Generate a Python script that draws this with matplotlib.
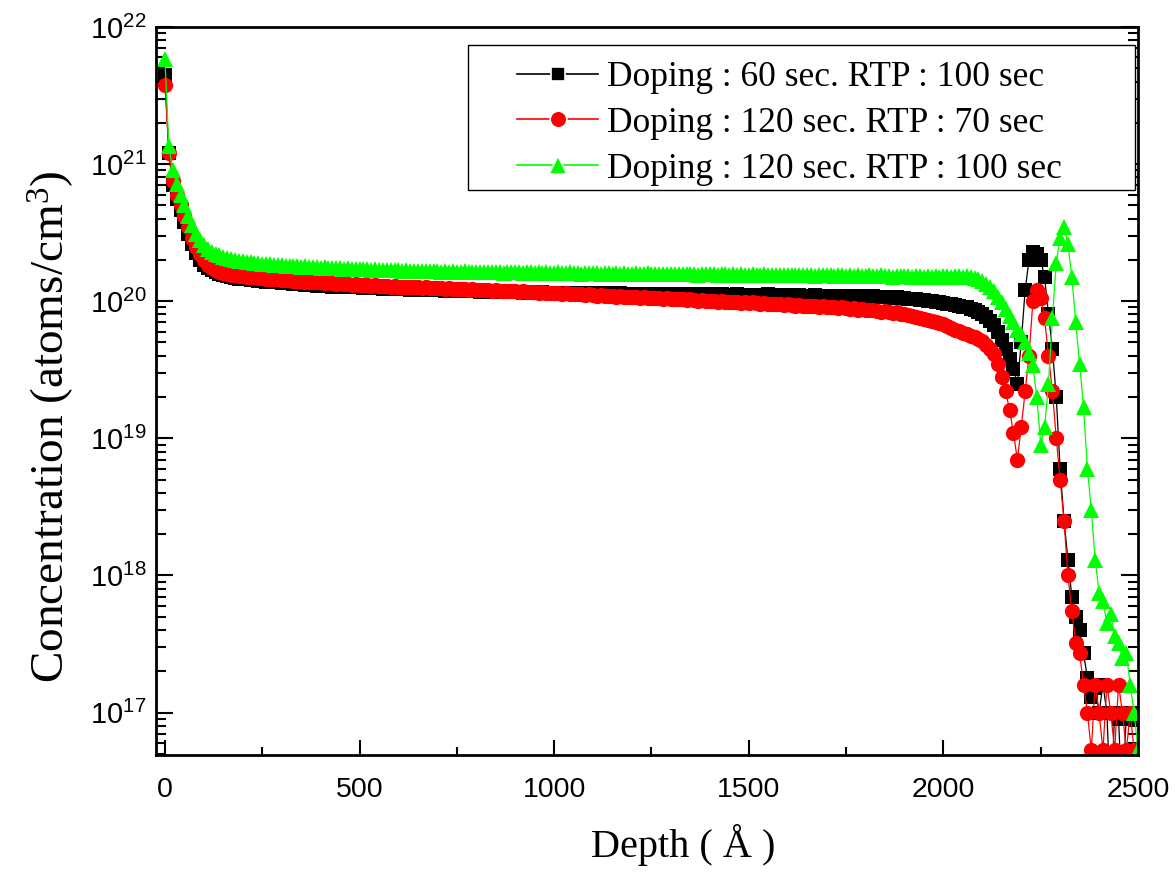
import numpy as np
import matplotlib
matplotlib.use("Agg")
import matplotlib.pyplot as plt
from matplotlib.patches import Rectangle
from matplotlib.ticker import FixedLocator, FuncFormatter, LogLocator, NullFormatter, MultipleLocator

# ---------------- data ----------------
# SIMS sampling grid: 0 .. 2500 Angstrom, 10 Angstrom step
depth = np.arange(0, 2501, 10)

black_60s_rtp100 = [
    4.5e21, 1.2e21, 7.0e20, 5.6e20, 4.6e20, 3.8e20, 3.1e20, 2.6e20, 2.25e20, 2.0e20,
    1.85e20, 1.75e20, 1.68e20, 1.62e20, 1.58e20, 1.55e20, 1.52e20, 1.50e20, 1.48e20, 1.46e20,
    1.45e20, 1.44e20, 1.43e20, 1.42e20, 1.40e20, 1.41e20, 1.39e20, 1.38e20, 1.37e20, 1.38e20,
    1.36e20, 1.35e20, 1.36e20, 1.34e20, 1.33e20, 1.34e20, 1.32e20, 1.31e20, 1.32e20, 1.30e20,
    1.30e20, 1.29e20, 1.30e20, 1.28e20, 1.27e20, 1.28e20, 1.27e20, 1.26e20, 1.27e20, 1.26e20,
    1.26e20, 1.25e20, 1.26e20, 1.24e20, 1.25e20, 1.24e20, 1.23e20, 1.24e20, 1.23e20, 1.22e20,
    1.23e20, 1.22e20, 1.23e20, 1.21e20, 1.22e20, 1.21e20, 1.22e20, 1.20e20, 1.21e20, 1.20e20,
    1.21e20, 1.20e20, 1.19e20, 1.20e20, 1.19e20, 1.20e20, 1.18e20, 1.19e20, 1.18e20, 1.19e20,
    1.18e20, 1.17e20, 1.18e20, 1.17e20, 1.18e20, 1.16e20, 1.17e20, 1.16e20, 1.17e20, 1.16e20,
    1.17e20, 1.16e20, 1.15e20, 1.16e20, 1.15e20, 1.16e20, 1.15e20, 1.16e20, 1.14e20, 1.15e20,
    1.15e20, 1.14e20, 1.15e20, 1.14e20, 1.15e20, 1.13e20, 1.14e20, 1.15e20, 1.13e20, 1.14e20,
    1.14e20, 1.13e20, 1.14e20, 1.13e20, 1.14e20, 1.13e20, 1.12e20, 1.14e20, 1.13e20, 1.12e20,
    1.13e20, 1.12e20, 1.13e20, 1.12e20, 1.13e20, 1.12e20, 1.13e20, 1.11e20, 1.12e20, 1.13e20,
    1.12e20, 1.11e20, 1.12e20, 1.13e20, 1.11e20, 1.12e20, 1.11e20, 1.12e20, 1.11e20, 1.12e20,
    1.11e20, 1.12e20, 1.11e20, 1.12e20, 1.11e20, 1.10e20, 1.11e20, 1.12e20, 1.10e20, 1.11e20,
    1.11e20, 1.10e20, 1.11e20, 1.10e20, 1.11e20, 1.12e20, 1.10e20, 1.11e20, 1.10e20, 1.11e20,
    1.10e20, 1.11e20, 1.10e20, 1.11e20, 1.10e20, 1.09e20, 1.10e20, 1.11e20, 1.09e20, 1.10e20,
    1.10e20, 1.09e20, 1.10e20, 1.09e20, 1.10e20, 1.09e20, 1.10e20, 1.08e20, 1.09e20, 1.10e20,
    1.09e20, 1.08e20, 1.09e20, 1.08e20, 1.07e20, 1.08e20, 1.07e20, 1.06e20, 1.07e20, 1.05e20,
    1.05e20, 1.04e20, 1.04e20, 1.03e20, 1.02e20, 1.02e20, 1.01e20, 1.00e20, 0.99e20, 0.98e20,
    0.97e20, 0.96e20, 0.95e20, 0.94e20, 0.93e20, 0.91e20, 0.90e20, 0.88e20, 0.86e20, 0.84e20,
    0.81e20, 0.77e20, 0.72e20, 0.67e20, 0.60e20, 0.52e20, 0.45e20, 0.38e20, 0.32e20, 0.25e20,
    0.50e20, 1.20e20, 2.00e20, 2.30e20, 2.20e20, 2.00e20, 1.50e20, 0.80e20, 0.45e20, 0.20e20,
    6.0e18, 2.5e18, 1.3e18, 7.0e17, 5.0e17, 4.0e17, 2.7e17, 1.8e17, 1.3e17, 1.5e17,
    1.0e17, 1.6e17, 1.0e17, 2.0e16, 1.0e17, 9.0e16, 2.0e16, 1.0e17, 9.0e16, 1.0e17, 9.0e16,
]

red_120s_rtp70 = [
    3.8e21, 1.2e21, 7.5e20, 6.0e20, 5.0e20, 4.2e20, 3.5e20, 2.9e20, 2.5e20, 2.2e20,
    2.00e20, 1.85e20, 1.75e20, 1.68e20, 1.63e20, 1.60e20, 1.58e20, 1.56e20, 1.54e20, 1.53e20,
    1.52e20, 1.51e20, 1.50e20, 1.49e20, 1.48e20, 1.47e20, 1.46e20, 1.46e20, 1.45e20, 1.44e20,
    1.43e20, 1.42e20, 1.43e20, 1.41e20, 1.40e20, 1.41e20, 1.39e20, 1.38e20, 1.39e20, 1.37e20,
    1.37e20, 1.36e20, 1.37e20, 1.35e20, 1.34e20, 1.35e20, 1.33e20, 1.34e20, 1.32e20, 1.33e20,
    1.32e20, 1.31e20, 1.32e20, 1.30e20, 1.31e20, 1.29e20, 1.30e20, 1.29e20, 1.28e20, 1.29e20,
    1.28e20, 1.27e20, 1.28e20, 1.26e20, 1.27e20, 1.26e20, 1.25e20, 1.26e20, 1.25e20, 1.24e20,
    1.25e20, 1.24e20, 1.23e20, 1.24e20, 1.23e20, 1.22e20, 1.23e20, 1.22e20, 1.21e20, 1.22e20,
    1.21e20, 1.20e20, 1.21e20, 1.20e20, 1.19e20, 1.20e20, 1.19e20, 1.18e20, 1.19e20, 1.18e20,
    1.18e20, 1.17e20, 1.18e20, 1.16e20, 1.17e20, 1.16e20, 1.15e20, 1.16e20, 1.15e20, 1.14e20,
    1.15e20, 1.14e20, 1.13e20, 1.14e20, 1.13e20, 1.12e20, 1.13e20, 1.12e20, 1.11e20, 1.12e20,
    1.11e20, 1.10e20, 1.11e20, 1.09e20, 1.10e20, 1.09e20, 1.08e20, 1.09e20, 1.08e20, 1.07e20,
    1.08e20, 1.07e20, 1.06e20, 1.07e20, 1.06e20, 1.05e20, 1.06e20, 1.05e20, 1.04e20, 1.05e20,
    1.04e20, 1.03e20, 1.04e20, 1.03e20, 1.02e20, 1.03e20, 1.02e20, 1.01e20, 1.02e20, 1.01e20,
    1.00e20, 1.01e20, 0.99e20, 1.00e20, 0.99e20, 0.98e20, 0.99e20, 0.98e20, 0.97e20, 0.98e20,
    0.97e20, 0.98e20, 0.97e20, 0.96e20, 0.97e20, 0.96e20, 0.95e20, 0.96e20, 0.95e20, 0.94e20,
    0.95e20, 0.94e20, 0.93e20, 0.94e20, 0.93e20, 0.92e20, 0.93e20, 0.92e20, 0.91e20, 0.92e20,
    0.91e20, 0.90e20, 0.91e20, 0.89e20, 0.90e20, 0.89e20, 0.88e20, 0.89e20, 0.87e20, 0.88e20,
    0.87e20, 0.86e20, 0.87e20, 0.85e20, 0.84e20, 0.85e20, 0.83e20, 0.82e20, 0.83e20, 0.81e20,
    0.80e20, 0.79e20, 0.78e20, 0.77e20, 0.76e20, 0.74e20, 0.73e20, 0.72e20, 0.71e20, 0.69e20,
    0.68e20, 0.66e20, 0.64e20, 0.62e20, 0.61e20, 0.59e20, 0.58e20, 0.56e20, 0.55e20, 0.53e20,
    0.51e20, 0.48e20, 0.45e20, 0.41e20, 0.35e20, 0.28e20, 0.22e20, 0.16e20, 0.11e20, 0.07e20,
    0.12e20, 0.22e20, 0.40e20, 1.00e20, 1.20e20, 1.05e20, 0.75e20, 0.40e20, 0.22e20, 0.10e20,
    5.0e18, 2.5e18, 1.0e18, 5.5e17, 3.2e17, 2.7e17, 1.6e17, 1.0e17, 5.3e16, 1.6e17,
    1.0e17, 5.3e16, 1.6e17, 1.0e17, 5.3e16, 1.6e17, 1.0e17, 5.3e16, 1.0e17, 5.3e16, 5.3e16,
]

green_120s_rtp100 = [
    5.8e21, 1.35e21, 9.0e20, 7.2e20, 6.0e20, 5.0e20, 4.2e20, 3.6e20, 3.1e20, 2.8e20,
    2.55e20, 2.40e20, 2.30e20, 2.22e20, 2.16e20, 2.11e20, 2.07e20, 2.03e20, 2.00e20, 1.98e20,
    1.96e20, 1.94e20, 1.93e20, 1.91e20, 1.90e20, 1.88e20, 1.87e20, 1.86e20, 1.85e20, 1.84e20,
    1.83e20, 1.82e20, 1.81e20, 1.82e20, 1.80e20, 1.79e20, 1.80e20, 1.78e20, 1.77e20, 1.78e20,
    1.76e20, 1.77e20, 1.75e20, 1.76e20, 1.74e20, 1.75e20, 1.73e20, 1.74e20, 1.72e20, 1.73e20,
    1.72e20, 1.71e20, 1.72e20, 1.70e20, 1.71e20, 1.69e20, 1.70e20, 1.69e20, 1.68e20, 1.69e20,
    1.68e20, 1.67e20, 1.68e20, 1.66e20, 1.67e20, 1.66e20, 1.65e20, 1.67e20, 1.65e20, 1.66e20,
    1.65e20, 1.64e20, 1.66e20, 1.64e20, 1.65e20, 1.63e20, 1.64e20, 1.65e20, 1.63e20, 1.64e20,
    1.63e20, 1.64e20, 1.62e20, 1.63e20, 1.64e20, 1.62e20, 1.63e20, 1.61e20, 1.63e20, 1.62e20,
    1.62e20, 1.63e20, 1.61e20, 1.62e20, 1.63e20, 1.61e20, 1.62e20, 1.60e20, 1.62e20, 1.61e20,
    1.61e20, 1.62e20, 1.60e20, 1.61e20, 1.62e20, 1.60e20, 1.61e20, 1.59e20, 1.61e20, 1.60e20,
    1.60e20, 1.61e20, 1.59e20, 1.60e20, 1.61e20, 1.59e20, 1.60e20, 1.58e20, 1.60e20, 1.59e20,
    1.59e20, 1.60e20, 1.58e20, 1.59e20, 1.60e20, 1.58e20, 1.59e20, 1.57e20, 1.59e20, 1.58e20,
    1.58e20, 1.59e20, 1.57e20, 1.58e20, 1.59e20, 1.57e20, 1.58e20, 1.56e20, 1.58e20, 1.57e20,
    1.57e20, 1.58e20, 1.56e20, 1.57e20, 1.58e20, 1.56e20, 1.57e20, 1.55e20, 1.57e20, 1.56e20,
    1.56e20, 1.57e20, 1.55e20, 1.56e20, 1.57e20, 1.55e20, 1.56e20, 1.54e20, 1.56e20, 1.55e20,
    1.55e20, 1.56e20, 1.54e20, 1.55e20, 1.56e20, 1.54e20, 1.55e20, 1.53e20, 1.55e20, 1.54e20,
    1.54e20, 1.55e20, 1.53e20, 1.54e20, 1.55e20, 1.53e20, 1.54e20, 1.52e20, 1.54e20, 1.53e20,
    1.53e20, 1.54e20, 1.52e20, 1.53e20, 1.54e20, 1.52e20, 1.53e20, 1.51e20, 1.53e20, 1.52e20,
    1.52e20, 1.53e20, 1.51e20, 1.52e20, 1.53e20, 1.51e20, 1.52e20, 1.50e20, 1.52e20, 1.51e20,
    1.52e20, 1.53e20, 1.51e20, 1.52e20, 1.53e20, 1.51e20, 1.52e20, 1.50e20, 1.48e20, 1.45e20,
    1.40e20, 1.34e20, 1.27e20, 1.18e20, 1.08e20, 0.98e20, 0.88e20, 0.78e20, 0.70e20, 0.62e20,
    0.58e20, 0.50e20, 0.42e20, 0.34e20, 0.20e20, 0.09e20, 0.12e20, 0.25e20, 0.75e20, 1.90e20,
    2.90e20, 3.50e20, 2.60e20, 1.50e20, 0.70e20, 0.35e20, 0.17e20, 6.0e18, 3.0e18, 1.3e18,
    7.5e17, 6.5e17, 4.5e17, 5.2e17, 3.6e17, 3.2e17, 2.5e17, 2.7e17, 1.6e17, 1.0e17, 5.3e16,
]

labels = [
    "Doping : 60 sec. RTP : 100 sec",
    "Doping : 120 sec. RTP : 70 sec",
    "Doping : 120 sec. RTP : 100 sec",
]
colors = ["#000000", "#FF0000", "#00FF00"]
markers = ["s", "o", "^"]
msizes = [9.5, 11, 12]
legend_msizes = [10.5, 12, 13]
series = [black_60s_rtp100, red_120s_rtp70, green_120s_rtp100]

x_ticks = [0, 500, 1000, 1500, 2000, 2500]
y_decades = [1e17, 1e18, 1e19, 1e20, 1e21, 1e22]

# ---------------- figure ----------------
W, H = 1175, 872
fig = plt.figure(figsize=(W / 100, H / 100), dpi=100)
L, R, T, B = 156, 1138, 27, 755
ax = fig.add_axes([L / W, 1 - B / H, (R - L) / W, (B - T) / H])

def ax_x(px):
    return (px - L) / (R - L)

def ax_y(py):
    return 1 - (py - T) / (B - T)

tick_font = ["Liberation Sans", "DejaVu Sans"]
serif_font = ["Liberation Serif", "DejaVu Serif"]

for y, lab, c, m, ms in zip(series, labels, colors, markers, msizes):
    ax.plot(depth, y, color=c, lw=0.9, marker=m, ms=ms, mec=c, mfc=c, mew=0,
            label=lab)

ax.set_yscale("log")
ax.set_xlim(-23, 2500)
ax.set_ylim(4.9e16, 1e22)

ax.xaxis.set_major_locator(FixedLocator(x_ticks))
ax.xaxis.set_minor_locator(MultipleLocator(250))
ax.yaxis.set_major_locator(FixedLocator(y_decades))
ax.yaxis.set_minor_locator(LogLocator(base=10, subs=np.arange(2, 10), numticks=20))
ax.yaxis.set_minor_formatter(NullFormatter())

def yfmt(v, pos):
    e = int(round(np.log10(v)))
    return r"$\mathregular{10^{%d}}$" % e

ax.yaxis.set_major_formatter(FuncFormatter(yfmt))
ax.xaxis.set_major_formatter(FuncFormatter(lambda v, p: "%d" % v))

ax.tick_params(axis="both", which="both", direction="in", top=False, right=True,
               width=1.5)
ax.tick_params(axis="y", which="major", length=12, pad=7)
ax.tick_params(axis="y", which="minor", length=7)
ax.tick_params(axis="x", which="major", length=11, pad=16)
ax.tick_params(axis="x", which="minor", length=6)

for lbl in ax.get_xticklabels():
    lbl.set_fontfamily(tick_font)
    lbl.set_fontsize(20.5)
for lbl in ax.get_yticklabels():
    lbl.set_fontfamily(tick_font)
    lbl.set_fontsize(21)

for sp in ax.spines.values():
    sp.set_linewidth(2.0)

ax.set_xlabel("Depth ( Å )", fontsize=29, family=serif_font)
ax.xaxis.set_label_coords(ax_x(683), ax_y(824))
ax.set_ylabel(r"Concentration (atoms/cm$\mathregular{^{3}}$)", fontsize=34,
              family=serif_font)
ax.yaxis.set_label_coords(ax_x(76), ax_y(427))

# legend frame (drawn as a box wider than the entries, as in the original)
box = Rectangle((ax_x(468), ax_y(190)), ax_x(1135) - ax_x(468), ax_y(45) - ax_y(190),
                transform=ax.transAxes, facecolor="white", edgecolor="black",
                linewidth=1.0, zorder=4)
ax.add_patch(box)

leg = ax.legend(loc="upper left", bbox_to_anchor=(ax_x(517), ax_y(61)), borderaxespad=0,
                prop={"family": serif_font, "size": 25.5}, numpoints=1,
                handlelength=2.3, handletextpad=0.25, frameon=False,
                borderpad=0, labelspacing=0.36)
leg.set_zorder(5)
for h, ms in zip(leg.legend_handles, legend_msizes):
    h.set_markersize(ms)
    h.set_markeredgecolor("white")
    h.set_markeredgewidth(1.2)
    h.set_linewidth(1.2)

fig.savefig("out.png", dpi=100)
